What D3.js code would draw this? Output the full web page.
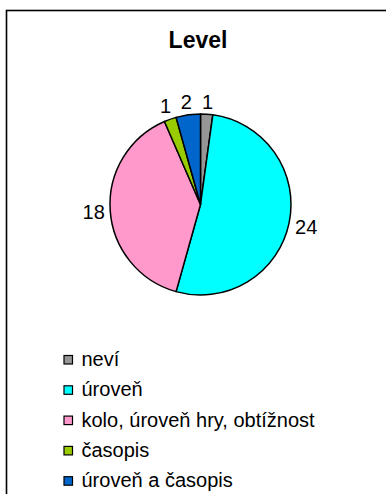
<!DOCTYPE html>
<html>
<head>
<meta charset="utf-8">
<script src="https://cdn.jsdelivr.net/npm/d3@7/dist/d3.min.js"></script>
<style>
  html, body { margin: 0; padding: 0; background: #fff; }
  svg { display: block; }
</style>
</head>
<body>
<svg id="chart" width="386" height="494"></svg>
<script>
// Answers to the "Level" question
const categories = ["neví", "úroveň", "kolo, úroveň hry, obtížnost", "časopis", "úroveň a časopis"];
const counts = [1, 24, 18, 1, 2];
const colors = ["#969696", "#00FFFF", "#FF99CC", "#99CC00", "#0066CC"];
const title = "Level";

const W = 386, H = 494;
const cx = 200.5, cy = 204.5, R = 90.5;
const fontFamily = "'Liberation Sans', Arial, sans-serif";

const svg = d3.select("#chart");

// outer chart frame (runs past the right and bottom edges)
svg.append("rect")
  .attr("x", 6.5).attr("y", 10.5)
  .attr("width", W + 20).attr("height", H + 20)
  .attr("fill", "#fff")
  .attr("stroke", "#000").attr("stroke-width", 1.6);

svg.append("text")
  .attr("x", 198).attr("y", 48)
  .attr("text-anchor", "middle")
  .attr("font-family", fontFamily)
  .attr("font-weight", "bold")
  .attr("font-size", 23)
  .attr("fill", "#000")
  .text(title);

const data = categories.map((c, i) => ({ name: c, value: counts[i], color: colors[i] }));

const pie = d3.pie().value(d => d.value).sort(null);
const arcs = pie(data);
const arc = d3.arc().innerRadius(0).outerRadius(R);

const g = svg.append("g").attr("transform", `translate(${cx},${cy})`);

g.selectAll("path.slice")
  .data(arcs)
  .join("path")
  .attr("class", "slice")
  .attr("d", arc)
  .attr("fill", d => d.data.color)
  .attr("stroke", "#000")
  .attr("stroke-width", 1.5)
  .attr("stroke-linejoin", "round");

// value labels outside the pie, pushed out by the label's own extent
const labelSize = 20;
g.selectAll("text.val")
  .data(arcs)
  .join("text")
  .attr("class", "val")
  .attr("font-family", fontFamily)
  .attr("font-size", labelSize)
  .attr("fill", "#000")
  .attr("text-anchor", "middle")
  .attr("dy", "0.36em")
  .text(d => d.data.value)
  .each(function (d) {
    const a = (d.startAngle + d.endAngle) / 2;
    const s = Math.sin(a), c = Math.cos(a);
    const w = this.getComputedTextLength();
    const h = 15;
    const r = R + 5 + Math.abs(s) * w / 2 + Math.abs(c) * h / 2;
    d3.select(this).attr("x", s * r).attr("y", -c * r);
  });

// legend
const legendX = 63.5, legendY0 = 366, legendStep = 30.3;
const legend = svg.append("g");
const rows = legend.selectAll("g.row")
  .data(data)
  .join("g")
  .attr("class", "row")
  .attr("transform", (d, i) => `translate(${legendX},${legendY0 + i * legendStep})`);

rows.append("rect")
  .attr("x", 0.5).attr("y", -10.5)
  .attr("width", 8.5).attr("height", 8.5)
  .attr("fill", d => d.color)
  .attr("stroke", "#000").attr("stroke-width", 1.2);

rows.append("text")
  .attr("x", 18).attr("y", 0)
  .attr("font-family", fontFamily)
  .attr("font-size", 20)
  .attr("fill", "#000")
  .text(d => d.name);
</script>
</body>
</html>
